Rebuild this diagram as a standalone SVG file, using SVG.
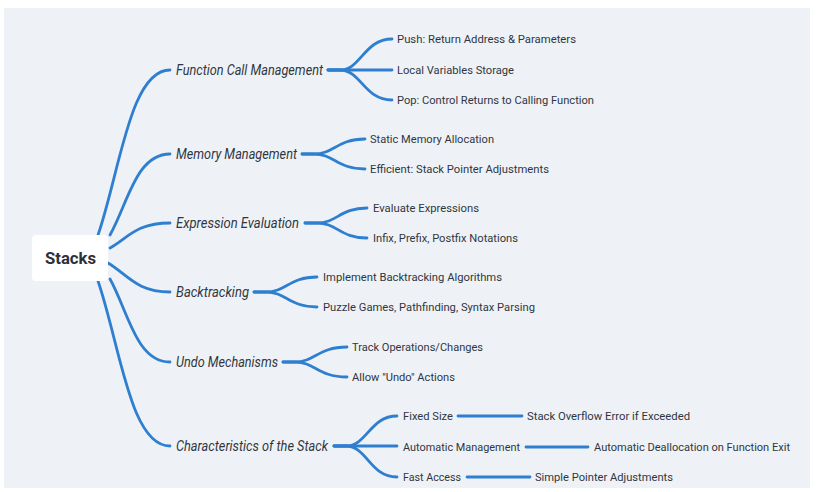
<svg xmlns="http://www.w3.org/2000/svg" width="818" height="492" viewBox="0 0 818 492">
<style>
.bg{fill:#eef2f6}
.ln{fill:none;stroke:#2f7fd0;stroke-width:2.8;stroke-linecap:round}
.root{fill:#ffffff}
.rt{font-family:Roboto,"Liberation Sans",sans-serif;font-weight:bold;font-size:16.5px;fill:#2b313a}
.l1{font-family:Roboto,"Liberation Sans",sans-serif;font-style:italic;font-size:13.8px;fill:#30363f}
.l2{font-family:Roboto,"Liberation Sans",sans-serif;font-size:11.5px;fill:#30363f}
</style>
<rect x="0" y="0" width="818" height="492" fill="#ffffff"/>
<rect class="bg" x="4" y="8" width="806" height="480"/>
<g id="connectors">
<path class="ln" d="M98,235 C120,171 130,70 170,70"/>
<path class="ln" d="M110,235 C128,203 136,154 170,154"/>
<path class="ln" d="M110,248 C128,238 136,223 170,223"/>
<path class="ln" d="M108,263 C127,274 136,292 170,292"/>
<path class="ln" d="M110,279 C128,311 136,362 170,362"/>
<path class="ln" d="M98,281 C120,345 130,446 170,446"/>
<path class="ln" d="M328,70 L340,70 C361,70 364,39 392,39"/>
<path class="ln" d="M328,70 L392,70"/>
<path class="ln" d="M328,70 L340,70 C361,70 364,100 392,100"/>
<path class="ln" d="M302,154 L314,154 C334,154 337,139 365,139"/>
<path class="ln" d="M302,154 L314,154 C334,154 337,169 365,169"/>
<path class="ln" d="M305,223 L317,223 C337,223 340,208 367,208"/>
<path class="ln" d="M305,223 L317,223 C337,223 340,238 367,238"/>
<path class="ln" d="M254,292 L266,292 C286,292 289,277 317,277"/>
<path class="ln" d="M254,292 L266,292 C286,292 289,307 317,307"/>
<path class="ln" d="M283,362 L295,362 C315,362 318,347 347,347"/>
<path class="ln" d="M283,362 L295,362 C315,362 318,377 347,377"/>
<path class="ln" d="M334,446 L346,446 C367,446 370,416 397,416"/>
<path class="ln" d="M334,446 L397,446"/>
<path class="ln" d="M334,446 L346,446 C367,446 370,477 397,477"/>
<path class="ln" d="M458,416 L522,416"/>
<path class="ln" d="M526,447 L588,447"/>
<path class="ln" d="M467,477 L530,477"/>
</g>
<g id="root">
<rect class="root" x="32" y="235" width="76" height="46" rx="4"/>
<text class="rt" x="45" y="264" textLength="51" lengthAdjust="spacingAndGlyphs">Stacks</text>
</g>
<g id="n-function-call"><text class="l1" x="176" y="74.5" textLength="147" lengthAdjust="spacingAndGlyphs">Function Call Management</text></g>
<g id="n-memory"><text class="l1" x="176" y="158.5" textLength="121" lengthAdjust="spacingAndGlyphs">Memory Management</text></g>
<g id="n-expression"><text class="l1" x="176" y="227.5" textLength="123" lengthAdjust="spacingAndGlyphs">Expression Evaluation</text></g>
<g id="n-backtracking"><text class="l1" x="176" y="296.5" textLength="73" lengthAdjust="spacingAndGlyphs">Backtracking</text></g>
<g id="n-undo"><text class="l1" x="176" y="366.5" textLength="102" lengthAdjust="spacingAndGlyphs">Undo Mechanisms</text></g>
<g id="n-characteristics"><text class="l1" x="176" y="450.5" textLength="152" lengthAdjust="spacingAndGlyphs">Characteristics of the Stack</text></g>
<g id="n-push"><text class="l2" x="397" y="43" textLength="179" lengthAdjust="spacingAndGlyphs">Push: Return Address &amp; Parameters</text></g>
<g id="n-local"><text class="l2" x="397" y="74" textLength="117" lengthAdjust="spacingAndGlyphs">Local Variables Storage</text></g>
<g id="n-pop"><text class="l2" x="397" y="104" textLength="197" lengthAdjust="spacingAndGlyphs">Pop: Control Returns to Calling Function</text></g>
<g id="n-static"><text class="l2" x="370" y="143" textLength="124" lengthAdjust="spacingAndGlyphs">Static Memory Allocation</text></g>
<g id="n-efficient"><text class="l2" x="370" y="173" textLength="179" lengthAdjust="spacingAndGlyphs">Efficient: Stack Pointer Adjustments</text></g>
<g id="n-evaluate"><text class="l2" x="373" y="212" textLength="106" lengthAdjust="spacingAndGlyphs">Evaluate Expressions</text></g>
<g id="n-infix"><text class="l2" x="373" y="242" textLength="145" lengthAdjust="spacingAndGlyphs">Infix, Prefix, Postfix Notations</text></g>
<g id="n-implement"><text class="l2" x="323" y="281" textLength="179" lengthAdjust="spacingAndGlyphs">Implement Backtracking Algorithms</text></g>
<g id="n-puzzle"><text class="l2" x="323" y="311" textLength="212" lengthAdjust="spacingAndGlyphs">Puzzle Games, Pathfinding, Syntax Parsing</text></g>
<g id="n-track"><text class="l2" x="352" y="351" textLength="131" lengthAdjust="spacingAndGlyphs">Track Operations/Changes</text></g>
<g id="n-allow"><text class="l2" x="352" y="381" textLength="103" lengthAdjust="spacingAndGlyphs">Allow "Undo" Actions</text></g>
<g id="n-fixed"><text class="l2" x="403" y="420" textLength="50" lengthAdjust="spacingAndGlyphs">Fixed Size</text></g>
<g id="n-automatic"><text class="l2" x="403" y="451" textLength="117" lengthAdjust="spacingAndGlyphs">Automatic Management</text></g>
<g id="n-fast"><text class="l2" x="403" y="481" textLength="58" lengthAdjust="spacingAndGlyphs">Fast Access</text></g>
<g id="n-overflow"><text class="l2" x="527" y="420" textLength="163" lengthAdjust="spacingAndGlyphs">Stack Overflow Error if Exceeded</text></g>
<g id="n-dealloc"><text class="l2" x="594" y="451" textLength="196" lengthAdjust="spacingAndGlyphs">Automatic Deallocation on Function Exit</text></g>
<g id="n-simple"><text class="l2" x="535" y="481" textLength="138" lengthAdjust="spacingAndGlyphs">Simple Pointer Adjustments</text></g>
</svg>
